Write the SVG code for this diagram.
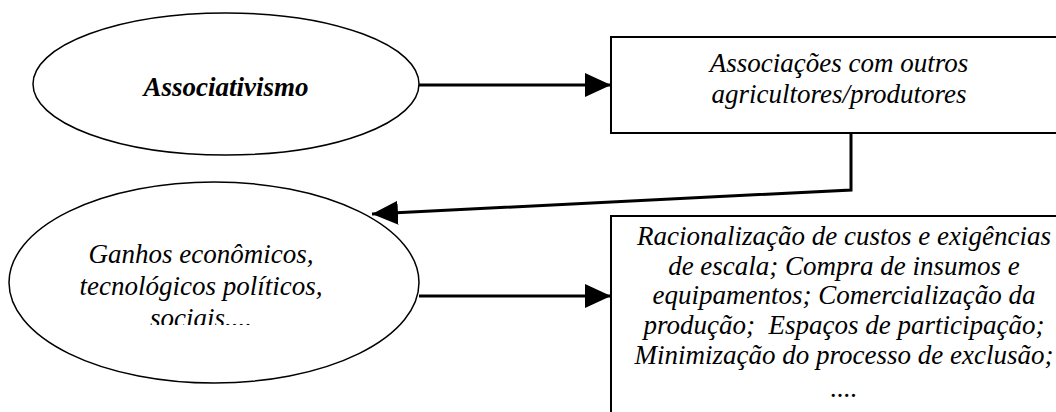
<svg xmlns="http://www.w3.org/2000/svg" width="1056" height="412" viewBox="0 0 1056 412">
<style>
  .shape { fill: #ffffff; stroke: #000000; stroke-width: 1.5; }
  .box { fill: #ffffff; stroke: #000000; stroke-width: 2; }
  text { font-family: 'Liberation Serif', 'Times New Roman', serif; font-style: italic; font-size: 27px; fill: #000000; text-anchor: middle; }
  .b { font-weight: bold; }
  .conn { fill: none; stroke: #000000; stroke-width: 3; }
</style>
<defs>
  <marker id="ah" markerUnits="userSpaceOnUse" markerWidth="28" markerHeight="26" refX="26" refY="12" orient="auto">
    <path d="M0,0 L26,12 L0,24 Z" fill="#000000"/>
  </marker>
  <clipPath id="clipE2">
    <rect x="0" y="0" width="420" height="325"/>
  </clipPath>
</defs>
<rect width="1056" height="412" fill="#ffffff"/>

<g id="node-associativismo">
  <ellipse class="shape" cx="226" cy="84" rx="193" ry="71"/>
  <text class="b" x="226" y="96">Associativismo</text>
</g>

<g id="node-associacoes">
  <rect class="box" x="611" y="37" width="460" height="96"/>
  <text x="839" y="72">Associações com outros</text>
  <text x="839" y="103">agricultores/produtores</text>
</g>

<g id="node-ganhos">
  <ellipse class="shape" cx="214" cy="282.5" rx="205" ry="100.5"/>
  <g clip-path="url(#clipE2)">
    <text x="201" y="263">Ganhos econômicos,</text>
    <text x="201" y="295">tecnológicos políticos,</text>
    <text x="201" y="327">sociais....</text>
  </g>
</g>

<g id="node-racionalizacao">
  <rect class="box" x="611" y="216" width="470" height="210"/>
  <text x="844" y="245">Racionalização de custos e exigências</text>
  <text x="844" y="275">de escala; Compra de insumos e</text>
  <text x="844" y="304">equipamentos; Comercialização da</text>
  <text x="844" y="334" xml:space="preserve">produção;  Espaços de participação;</text>
  <text x="844" y="364">Minimização do processo de exclusão;</text>
  <text x="844" y="397">....</text>
</g>

<g id="connectors">
  <line class="conn" x1="419" y1="85" x2="611" y2="85" marker-end="url(#ah)"/>
  <polyline class="conn" points="851,133 851,190 372,214" marker-end="url(#ah)"/>
  <line class="conn" x1="419" y1="296" x2="611" y2="296" marker-end="url(#ah)"/>
</g>
</svg>
